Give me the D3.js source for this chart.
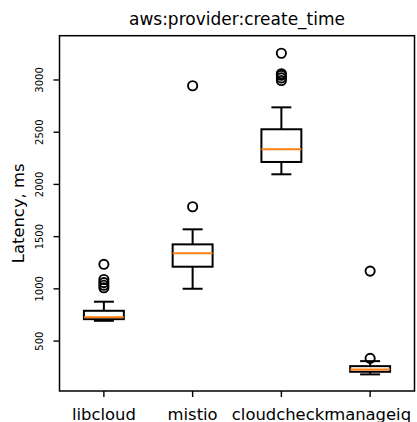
<!DOCTYPE html>
<html>
<head>
<meta charset="utf-8">
<script src="https://cdn.jsdelivr.net/npm/d3@7"></script>
<style>
  body { margin: 0; background: #fff; }
  svg { display: block; font-family: "DejaVu Sans", sans-serif; }
</style>
</head>
<body>
<svg id="chart" width="417" height="422"></svg>
<script>
// Box stats (ms)
var categories = ["libcloud", "mistio", "cloudcheckr", "manageiq"];
var whiskerLow  = [694, 1001, 2097, 181];
var q1          = [710, 1212, 2215, 206];
var median      = [727, 1340, 2336, 229];
var q3          = [790, 1426, 2528, 260];
var whiskerHigh = [877, 1570, 2738, 308];
var fliers = [
  [1010, 1035, 1060, 1090, 1235],
  [1786, 2945],
  [2995, 3020, 3045, 3060, 3256],
  [334, 1170]
];
var yTicks = [500, 1000, 1500, 2000, 2500, 3000];

var svg = d3.select("#chart"),
  width = +svg.attr("width"),
  height = +svg.attr("height");

var margin = {left: 59.5, right: 2.5, top: 35.7, bottom: 31};
var plotW = width - margin.left - margin.right,
  plotH = height - margin.top - margin.bottom;

var x = d3.scaleLinear().domain([0.5, 4.5]).range([margin.left, margin.left + plotW]);
var y = d3.scaleLinear().domain([22, 3424]).range([margin.top + plotH, margin.top]);

var boxW = x(1.45) - x(1);
var capW = boxW / 2;
var lw = 2;

var boxes = categories.map(function(c, i) {
  return {name: c, pos: i + 1, lo: whiskerLow[i], q1: q1[i], med: median[i], q3: q3[i], hi: whiskerHigh[i], out: fliers[i]};
});

var g = svg.append("g");

var b = g.selectAll("g.box").data(boxes).enter().append("g").attr("class", "box");

// whiskers
b.append("line")
  .attr("x1", function(d) { return x(d.pos); }).attr("x2", function(d) { return x(d.pos); })
  .attr("y1", function(d) { return y(d.lo); }).attr("y2", function(d) { return y(d.q1); })
  .attr("stroke", "#000").attr("stroke-width", lw);
b.append("line")
  .attr("x1", function(d) { return x(d.pos); }).attr("x2", function(d) { return x(d.pos); })
  .attr("y1", function(d) { return y(d.q3); }).attr("y2", function(d) { return y(d.hi); })
  .attr("stroke", "#000").attr("stroke-width", lw);
// caps
b.selectAll("line.cap").data(function(d) { return [{pos: d.pos, v: d.lo}, {pos: d.pos, v: d.hi}]; })
  .enter().append("line").attr("class", "cap")
  .attr("x1", function(d) { return x(d.pos) - capW / 2; })
  .attr("x2", function(d) { return x(d.pos) + capW / 2; })
  .attr("y1", function(d) { return y(d.v); }).attr("y2", function(d) { return y(d.v); })
  .attr("stroke", "#000").attr("stroke-width", lw);
// box
b.append("rect")
  .attr("x", function(d) { return x(d.pos) - boxW / 2; })
  .attr("width", boxW)
  .attr("y", function(d) { return y(d.q3); })
  .attr("height", function(d) { return y(d.q1) - y(d.q3); })
  .attr("fill", "none").attr("stroke", "#000").attr("stroke-width", lw);
// median
b.append("line")
  .attr("x1", function(d) { return x(d.pos) - boxW / 2; })
  .attr("x2", function(d) { return x(d.pos) + boxW / 2; })
  .attr("y1", function(d) { return y(d.med); }).attr("y2", function(d) { return y(d.med); })
  .attr("stroke", "#ff7f0e").attr("stroke-width", lw);
// fliers
b.selectAll("circle").data(function(d) { return d.out.map(function(v) { return {pos: d.pos, v: v}; }); })
  .enter().append("circle")
  .attr("cx", function(d) { return x(d.pos); })
  .attr("cy", function(d) { return y(d.v); })
  .attr("r", 4.6)
  .attr("fill", "none").attr("stroke", "#000").attr("stroke-width", 1.9);

// spines
svg.append("rect")
  .attr("x", margin.left).attr("y", margin.top)
  .attr("width", plotW).attr("height", plotH)
  .attr("fill", "none").attr("stroke", "#000").attr("stroke-width", 1.5);

// y ticks
var yt = svg.append("g").selectAll("g").data(yTicks).enter().append("g");
yt.append("line")
  .attr("x1", margin.left - 6).attr("x2", margin.left)
  .attr("y1", function(d) { return y(d); }).attr("y2", function(d) { return y(d); })
  .attr("stroke", "#000").attr("stroke-width", 1.4);
yt.append("text")
  .attr("transform", function(d) { return "translate(43," + y(d) + ") rotate(-90)"; })
  .attr("text-anchor", "middle")
  .attr("font-size", 10)
  .text(function(d) { return d; });

// x ticks
var xt = svg.append("g").selectAll("g").data(boxes).enter().append("g");
xt.append("line")
  .attr("x1", function(d) { return x(d.pos); }).attr("x2", function(d) { return x(d.pos); })
  .attr("y1", margin.top + plotH).attr("y2", margin.top + plotH + 6)
  .attr("stroke", "#000").attr("stroke-width", 1.4);
xt.append("text")
  .attr("x", function(d) { return x(d.pos); })
  .attr("y", 419.5)
  .attr("text-anchor", "middle")
  .attr("font-size", 16.4)
  .text(function(d) { return d.name; });

// axis label + title
svg.append("text")
  .attr("transform", "translate(24," + (margin.top + plotH / 2) + ") rotate(-90)")
  .attr("text-anchor", "middle")
  .attr("font-size", 16.4)
  .text("Latency, ms");

svg.append("text")
  .attr("x", margin.left + plotW / 2)
  .attr("y", 24.5)
  .attr("text-anchor", "middle")
  .attr("font-size", 17)
  .text("aws:provider:create_time");
</script>
</body>
</html>
